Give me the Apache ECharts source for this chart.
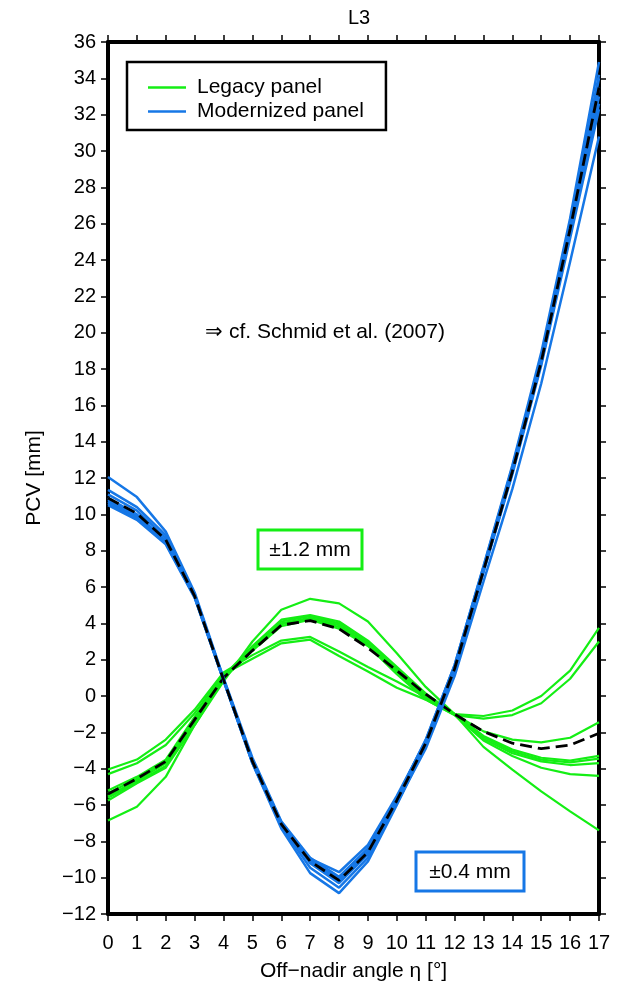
<!DOCTYPE html>
<html><head><meta charset="utf-8">
<script src="https://cdn.jsdelivr.net/npm/echarts@6/dist/echarts.min.js"></script>
<style>html,body{margin:0;padding:0;background:#fff}#c{width:631px;height:982px}</style>
</head><body><div id="c"></div>
<script>
// ---- data (PCV in mm vs off-nadir angle in degrees) ----
const angles = [0,1,2,3,4,5,6,7,8,9,10,11,12,13,14,15,16,17];
const xTicks = [0,1,2,3,4,5,6,7,8,9,10,11,12,13,14,15,16,17];
const yMin = -12, yMax = 36, yStep = 2;

// Legacy panel (green) individual curves
const legacy1 = [-4.05,-3.5,-2.4,-0.75,1.3,2.25,3.05,3.25,2.45,1.6,0.8,-0.05,-1.0,-1.1,-0.8,0.0,1.4,3.75];
const legacy2 = [-4.3,-3.7,-2.7,-0.95,1.2,2.05,2.9,3.1,2.2,1.35,0.45,-0.2,-1.05,-1.25,-1.05,-0.4,0.95,3.0];
const legacy3 = [-6.85,-6.1,-4.45,-1.6,0.8,3.0,4.75,5.35,5.1,4.1,2.35,0.5,-1.0,-2.8,-4.05,-5.25,-6.35,-7.4];
const legacy4 = [-5.2,-4.45,-3.5,-1.15,1.1,2.75,4.2,4.45,4.1,3.05,1.6,0.15,-1.0,-1.95,-2.4,-2.55,-2.3,-1.45];
const legacy5 = [-5.35,-4.55,-3.6,-1.25,1.05,2.7,4.1,4.4,4.0,2.95,1.5,0.05,-1.0,-2.2,-2.95,-3.4,-3.55,-3.3];
const legacy6 = [-5.5,-4.65,-3.7,-1.35,1.0,2.65,4.0,4.3,3.9,2.85,1.4,0.0,-1.0,-2.25,-3.05,-3.5,-3.65,-3.45];
const legacy7 = [-5.6,-4.75,-3.85,-1.45,1.0,2.6,3.95,4.25,3.8,2.8,1.3,-0.1,-1.0,-2.35,-3.15,-3.6,-3.8,-3.7];
const legacy8 = [-5.75,-4.8,-3.95,-1.6,0.95,2.5,3.85,4.2,3.7,2.75,1.2,-0.2,-1.05,-2.45,-3.3,-3.95,-4.3,-4.4];
const legacyMean = [-5.4,-4.55,-3.6,-1.3,1.0,2.5,3.9,4.15,3.7,2.65,1.4,0.1,-1.0,-1.95,-2.6,-2.9,-2.7,-2.05];

// Modernized panel (blue) individual curves
const modern1 = [12.05,10.95,9.05,5.7,1.0,-3.4,-6.9,-8.9,-9.95,-8.4,-5.6,-2.4,1.7,7.1,12.6,18.7,26.1,34.0];
const modern2 = [11.35,10.4,8.85,5.6,0.95,-3.5,-6.95,-9.0,-10.0,-8.4,-5.6,-2.45,1.7,7.15,12.7,18.9,26.3,34.9];
const modern3 = [11.1,10.2,8.7,5.55,0.9,-3.55,-7.0,-8.95,-9.7,-8.2,-5.5,-2.5,1.6,7.0,12.5,18.6,26.0,34.2];
const modern4 = [10.9,10.0,8.55,5.5,0.9,-3.6,-7.05,-9.1,-10.2,-8.6,-5.75,-2.6,1.55,6.95,12.4,18.5,25.8,33.5];
const modern5 = [10.7,9.85,8.45,5.45,0.85,-3.65,-7.1,-9.2,-10.3,-8.7,-5.8,-2.65,1.5,6.9,12.35,18.4,25.6,33.0];
const modern6 = [10.5,9.7,8.35,5.4,0.85,-3.7,-7.2,-9.45,-10.55,-8.9,-5.9,-2.7,1.45,6.85,12.3,18.3,25.4,32.6];
const modern7 = [10.6,9.75,8.4,5.45,0.9,-3.7,-7.3,-9.75,-10.85,-9.1,-6.0,-2.75,1.4,6.8,12.2,18.2,25.2,32.3];
const modern8 = [10.8,9.9,8.5,5.5,0.9,-3.6,-7.05,-9.1,-10.1,-8.6,-5.9,-2.9,1.1,6.3,11.4,17.2,23.9,30.8];
const modernMean = [10.9,10.05,8.6,5.5,0.9,-3.6,-7.05,-9.1,-10.15,-8.6,-5.75,-2.6,1.5,6.9,12.35,18.4,25.7,33.5];

const legacyCurves = [legacy1,legacy2,legacy3,legacy4,legacy5,legacy6,legacy7,legacy8];
const modernCurves = [modern1,modern2,modern3,modern4,modern5,modern6,modern7,modern8];

// ---- styling ----
const FONT = 'Liberation Sans, Arial, sans-serif';
const GREEN = '#14ee14';
const BLUE = '#1677e6';
const minus = v => (v < 0 ? '\u2212' + Math.abs(v) : String(v));
const pairs = arr => angles.map((a, i) => [a, arr[i]]);

const series = [];
legacyCurves.forEach(c => series.push({
  name: 'Legacy panel', type: 'line', data: pairs(c), showSymbol: false, symbol: 'none',
  lineStyle: { color: GREEN, width: 2.2 }, itemStyle: { color: GREEN }, z: 2, silent: true
}));
series.push({
  name: 'Legacy mean', type: 'line', data: pairs(legacyMean), showSymbol: false, symbol: 'none',
  lineStyle: { color: '#000', width: 2.8, type: [12, 6] }, z: 3, silent: true
});
modernCurves.forEach(c => series.push({
  name: 'Modernized panel', type: 'line', data: pairs(c), showSymbol: false, symbol: 'none',
  lineStyle: { color: BLUE, width: 2.5 }, itemStyle: { color: BLUE }, z: 4, silent: true
}));
series.push({
  name: 'Modernized mean', type: 'line', data: pairs(modernMean), showSymbol: false, symbol: 'none',
  lineStyle: { color: '#000', width: 2.8, type: [12, 6] }, z: 5, silent: true
});

const axisLine = { show: true, onZero: false, lineStyle: { color: '#000', width: 4 } };
const tick = { show: true, inside: false, length: 7, lineStyle: { color: '#000', width: 1.5 } };

const chart = echarts.init(document.getElementById('c'), null, { renderer: 'canvas' });
chart.setOption({
  animation: false,
  backgroundColor: '#fff',
  textStyle: { fontFamily: FONT },
  title: { text: 'L3', left: 354, top: 3, textAlign: 'center',
    textStyle: { fontFamily: FONT, fontSize: 20, fontWeight: 'normal', color: '#000' } },
  grid: { left: 108, right: 32, top: 42, bottom: 68, containLabel: false, outerBoundsMode: 'none' },
  legend: {
    data: ['Legacy panel', 'Modernized panel'],
    orient: 'vertical', left: 127, top: 62,
    padding: [15, 22, 8, 21], itemGap: 3,
    itemWidth: 38, itemHeight: 2.5, icon: 'rect',
    borderColor: '#000', borderWidth: 2.5, backgroundColor: '#fff',
    textStyle: { fontFamily: FONT, fontSize: 21, color: '#000', padding: [0, 0, 0, 6] },
    selectedMode: false
  },
  xAxis: [
    { type: 'value', min: 0, max: 17, interval: 1, position: 'bottom',
      name: 'Off\u2212nadir angle \u03b7 [\u00b0]', nameLocation: 'middle', nameGap: 47,
      nameTextStyle: { fontFamily: FONT, fontSize: 21, color: '#000' },
      axisLine, axisTick: tick, splitLine: { show: false },
      axisLabel: { fontFamily: FONT, fontSize: 20, color: '#000', margin: 19,
        formatter: v => xTicks.includes(v) ? String(v) : '' } },
    { type: 'value', min: 0, max: 17, interval: 1, position: 'top',
      axisLine, axisTick: tick, splitLine: { show: false }, axisLabel: { show: false } }
  ],
  yAxis: [
    { type: 'value', min: yMin, max: yMax, interval: yStep, position: 'left',
      name: 'PCV [mm]', nameLocation: 'middle', nameGap: 63, nameRotate: 90,
      nameTextStyle: { fontFamily: FONT, fontSize: 21, color: '#000' },
      axisLine, axisTick: tick, splitLine: { show: false },
      axisLabel: { fontFamily: FONT, fontSize: 20, color: '#000', margin: 12, formatter: minus } },
    { type: 'value', min: yMin, max: yMax, interval: yStep, position: 'right',
      axisLine, axisTick: tick, splitLine: { show: false }, axisLabel: { show: false } }
  ],
  graphic: [
    { type: 'text', x: 325, y: 332, z: 10,
      style: { text: '\u21d2 cf. Schmid et al. (2007)', font: '21px ' + FONT, fill: '#000',
        align: 'center', verticalAlign: 'middle' } },
    { type: 'group', x: 258, y: 530, z: 10, children: [
      { type: 'rect', shape: { x: 0, y: 0, width: 104, height: 39 },
        style: { fill: '#fff', stroke: GREEN, lineWidth: 3 } },
      { type: 'text', x: 52, y: 20, style: { text: '\u00b11.2 mm', font: '21px ' + FONT, fill: '#000',
        align: 'center', verticalAlign: 'middle' } }
    ] },
    { type: 'group', x: 416, y: 852, z: 10, children: [
      { type: 'rect', shape: { x: 0, y: 0, width: 108, height: 39 },
        style: { fill: '#fff', stroke: BLUE, lineWidth: 3 } },
      { type: 'text', x: 54, y: 20, style: { text: '\u00b10.4 mm', font: '21px ' + FONT, fill: '#000',
        align: 'center', verticalAlign: 'middle' } }
    ] }
  ],
  series
});
</script></body></html>
